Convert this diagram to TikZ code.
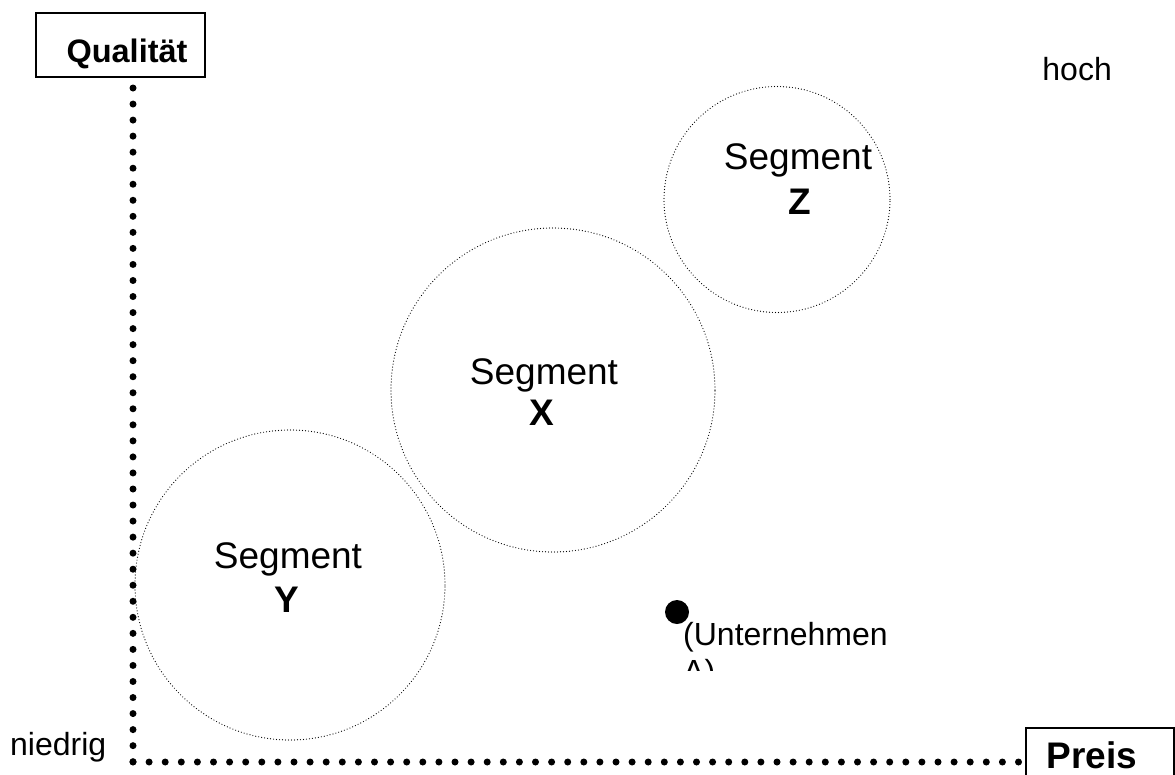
\documentclass[tikz,border=0pt]{standalone}
\usepackage{fontspec}
\setmainfont{Liberation Sans}
\begin{document}
\begin{tikzpicture}[x=1pt,y=-1pt,
  vaxis/.style={line width=7pt,line cap=round,dash pattern=on 0pt off 16.04pt},
  haxis/.style={line width=7pt,line cap=round,dash pattern=on 0pt off 16.1pt},
  seg/.style={circle,draw,line width=1.2pt,line cap=round,dash pattern=on 0pt off 3pt,inner sep=0pt},
  lbl/.style={anchor=base,inner sep=0pt,font=\fontsize{37}{44}\selectfont},
  blbl/.style={anchor=base,inner sep=0pt,font=\fontsize{37}{44}\selectfont\bfseries},
  small/.style={anchor=base,inner sep=0pt,font=\fontsize{32}{38}\selectfont},
  axbox/.style={draw,line width=1.5pt,inner sep=0pt}
]
\useasboundingbox[fill=white] (0,0) rectangle (1175,774);
% axes
\coordinate (top) at (133,88);
\coordinate (orig) at (133,762);
\coordinate (xend) at (1020,762);
\draw[vaxis] (top) -- (orig);
\draw[haxis] (orig) -- (xend);
% Qualitaet box
\node[axbox,minimum width=169pt,minimum height=64pt] (qbox) at (120.5,45) {};
\node[blbl,font=\fontsize{32.5}{40}\selectfont\bfseries] (qual) at (127,62) {Qualität};
% Preis box
\node[axbox,anchor=north west,minimum width=148pt,minimum height=60pt] (pbox) at (1025,727) {};
\node[blbl,font=\fontsize{37}{44}\selectfont\bfseries] (preis) at (1092,768) {Preis};
% hoch / niedrig
\node[small,anchor=base east] (hoch) at (1112,80) {hoch};
\node[small,anchor=base west] (niedrig) at (10,755) {niedrig};
% circles
\node[seg,minimum size=226pt] (cz) at (777,199.5) {};
\node[seg,minimum size=324pt] (cx) at (553,390) {};
\node[seg,minimum size=310pt] (cy) at (290,585) {};
% labels
\node[lbl] (sz) at (798,169) {Segment};
\node[blbl] (z) at (800,214) {Z};
\node[lbl] (sx) at (544,384) {Segment};
\node[blbl] (x) at (542,425) {X};
\node[lbl] (sy) at (288,568) {Segment};
\node[blbl] (y) at (287,612) {Y};
% company dot
\node[circle,fill=black,minimum size=24pt,inner sep=0pt] (dot) at (677,612) {};
\begin{scope}
\clip (660,600) rectangle (950,670);
\node[small,anchor=base west] (unt) at (683,645) {(Unternehmen};
\node[small,anchor=base west] (unta) at (683,682) {A)};
\end{scope}
\end{tikzpicture}
\end{document}
